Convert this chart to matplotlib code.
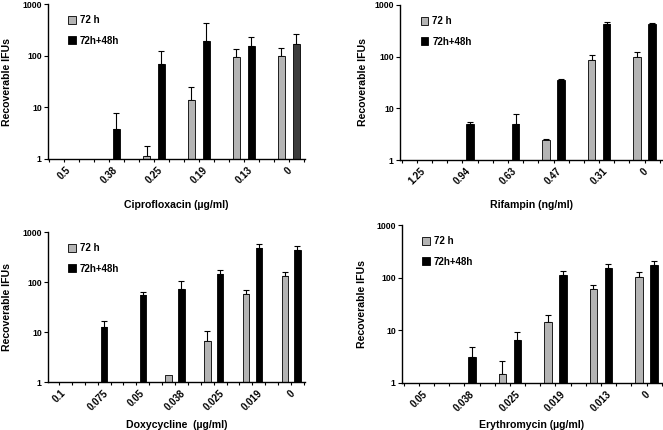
import numpy as np
import matplotlib
matplotlib.use("Agg")
import matplotlib.pyplot as plt
from matplotlib.ticker import FixedLocator, NullLocator, FixedFormatter

plt.rcParams['font.family'] = ['Liberation Sans', 'DejaVu Sans']
plt.rcParams['font.weight'] = 'bold'

nan = np.nan

# Ciprofloxacin
cip_labels = ['0.5', '0.38', '0.25', '0.19', '0.13', '0']
cip_72 = [nan, nan, 1.12, 14, 93, 100]
cip_72_err = [nan, nan, 0.7, 11, 40, 39]
cip_48 = [nan, 3.8, 68, 196, 157, 171]
cip_48_err = [nan, 3.9, 54, 229, 70, 93]

# Rifampin
rif_labels = ['1.25', '0.94', '0.63', '0.47', '0.31', '0']
rif_72 = [nan, nan, nan, 2.4, 85, 97]
rif_72_err = [nan, nan, nan, 0.2, 21, 28]
rif_48 = [nan, 5.0, 5.0, 35.3, 423, 437]
rif_48_err = [nan, 0.4, 2.65, 1.2, 39, 13]

# Doxycycline
dox_labels = ['0.1', '0.075', '0.05', '0.038', '0.025', '0.019', '0']
dox_72 = [nan, nan, nan, 1.38, 6.7, 57.5, 132]
dox_72_err = [nan, nan, nan, 0, 3.9, 11.5, 24]
dox_48 = [nan, 12.4, 55.8, 73.6, 147, 486, 437]
dox_48_err = [nan, 4.5, 7.2, 31, 27, 89, 88]

# Erythromycin
ery_labels = ['0.05', '0.038', '0.025', '0.019', '0.013', '0']
ery_72 = [nan, nan, 1.5, 14.7, 59.7, 102.7]
ery_72_err = [nan, nan, 1.1, 4.7, 13.3, 23.3]
ery_48 = [nan, 3.17, 6.6, 113, 152, 171]
ery_48_err = [nan, 1.73, 2.9, 20, 32, 36]

panels = [
    # labels, series, axes rect in px (left, top, right, bottom), xlabel, xlim,
    # xlabel offset, ylabel offset, colours of the dark series
    (cip_labels, cip_72, cip_72_err, cip_48, cip_48_err,
     (48, 4, 305, 159), 'Ciprofloxacin (µg/ml)', (-0.356, 5.36), 41, 36,
     ['black'] * 5 + ['#3c3c3c']),
    (rif_labels, rif_72, rif_72_err, rif_48, rif_48_err,
     (400, 5, 662, 160), 'Rifampin (ng/ml)', (-0.37, 5.38), 40, 32,
     ['black'] * 6),
    (dox_labels, dox_72, dox_72_err, dox_48, dox_48_err,
     (48, 232, 305, 382), 'Doxycycline  (µg/ml)', (-0.284, 6.36), 38, 36,
     ['black'] * 7),
    (ery_labels, ery_72, ery_72_err, ery_48, ery_48_err,
     (402, 225, 662, 383), 'Erythromycin (µg/ml)', (-0.37, 5.34), 37, 35,
     ['black'] * 6),
]

W, H = 663, 430
fig = plt.figure(figsize=(W / 100, H / 100), dpi=100)

for labels, v72, e72, v48, e48, rect, xlab, xlim, xlpad, ylpad, c48 in panels:
    l, t, r, b = rect
    ax = fig.add_axes([l / W, 1 - b / H, (r - l) / W, (b - t) / H])
    ax.set_yscale('log')
    x = np.arange(len(labels))
    off, wd = 0.165, 0.165
    v72 = np.array(v72, dtype=float)
    v48 = np.array(v48, dtype=float)
    e72 = np.array(e72, dtype=float)
    e48 = np.array(e48, dtype=float)

    g = ax.bar(x - off, v72, wd, color='#b4b4b4', edgecolor='black',
               linewidth=0.6, label='72 h', zorder=2)
    k = ax.bar(x + off, v48, wd, color=c48, edgecolor='black',
               linewidth=0.6, label='72h+48h', zorder=2)
    for xs, vs, es in [(x - off, v72, e72), (x + off, v48, e48)]:
        m = ~np.isnan(vs) & ~np.isnan(es) & (es > 0)
        ax.errorbar(xs[m], vs[m], yerr=[np.zeros(m.sum()), es[m]], fmt='none',
                    ecolor='black', elinewidth=0.8, capsize=2, capthick=0.8,
                    zorder=1)

    ax.yaxis.set_major_locator(FixedLocator([1, 10, 100, 1000]))
    ax.yaxis.set_major_formatter(FixedFormatter(['1', '10', '100', '1000']))
    ax.yaxis.set_minor_locator(NullLocator())
    ax.set_xticks(x)
    ax.set_xticklabels(labels, rotation=45, ha='center', va='top',
                       fontsize=7, fontweight='bold')
    ax.set_xticks(np.arange(-1, len(labels) + 1, 1 / 3), minor=True)
    ax.set_ylim(1, 1000)
    ax.set_xlim(*xlim)
    ax.tick_params(axis='x', which='both', length=2.5, width=0.8, pad=2)
    ax.tick_params(axis='y', length=3, width=0.8, labelsize=6.2, pad=1.5)
    for s in ['top', 'right']:
        ax.spines[s].set_visible(False)
    for s in ['left', 'bottom']:
        ax.spines[s].set_linewidth(1.0)

    ax.set_xlabel(xlab, fontsize=7.6, fontweight='bold')
    ax.xaxis.set_label_coords(0.5, -xlpad / (b - t))
    ax.set_ylabel('Recoverable IFUs', fontsize=7.6, fontweight='bold')
    ax.yaxis.set_label_coords(-ylpad / (r - l), 0.5)

    ax.legend(handles=[g, k], loc='upper left',
              bbox_to_anchor=(0.045, 0.985), frameon=False,
              handlelength=0.8, handleheight=0.9,
              handletextpad=0.4, labelspacing=1.1,
              prop={'weight': 'bold', 'size': 7})

fig.savefig('out.png', dpi=100)
